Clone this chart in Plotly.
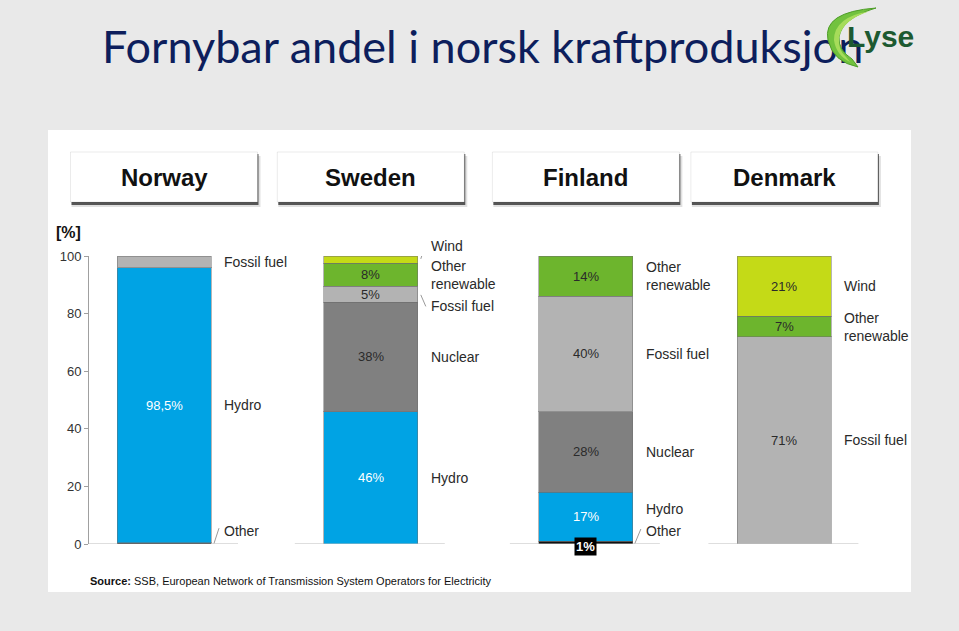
import plotly.graph_objects as go

# ---------------- data ----------------
countries = ["Norway", "Sweden", "Finland", "Denmark"]
series_names = ["Other", "Hydro", "Nuclear", "Fossil fuel", "Other renewable", "Wind"]
other_vals      = [0.5, None, 1, None]
hydro_vals      = [95.5, 46, 17, None]
nuclear_vals    = [None, 38, 28, None]
fossil_vals     = [4, 5.5, 40, 72]
other_ren_vals  = [None, 8, 14, 7]
wind_vals       = [None, 2.5, None, 21]

other_lbl      = ["", "", "1%", ""]
hydro_lbl      = ["98,5%", "46%", "17%", ""]
nuclear_lbl    = ["", "38%", "28%", ""]
fossil_lbl     = ["", "5%", "40%", "71%"]
other_ren_lbl  = ["", "8%", "14%", "7%"]
wind_lbl       = ["", "", "", "21%"]

side_names = ["Other", "Hydro", "Nuclear", "Fossil fuel", "Other<br>renewable", "Wind"]
y_ticks = [0, 20, 40, 60, 80, 100]
title_text = "Fornybar andel i norsk kraftproduksjon"

# ---------------- layout helpers ----------------
W, H = 959, 631
K = 206.8
group_pos = [0, 1.0, 2.04, 3.0]
X_LEFT_PX, X_RIGHT_PX, X0_PX = 89, 911, 164
Y0_PX, Y100_PX = 544, 256
BAR_W = 94 / K

def px(x):
    return x / W

def py(y):
    return 1 - y / H

colors = ["#111111", "#00a3e4", "#808080", "#b3b3b3", "#6db52d", "#c4da17"]
txt_colors = ["#ffffff", "#ffffff", "#2a2a2a", "#2a2a2a", "#2a2a2a", "#2a2a2a"]
all_vals = [other_vals, hydro_vals, nuclear_vals, fossil_vals, other_ren_vals, wind_vals]
all_lbls = [other_lbl, hydro_lbl, nuclear_lbl, fossil_lbl, other_ren_lbl, wind_lbl]

fig = go.Figure()
for name, vals, col in zip(series_names, all_vals, colors):
    fig.add_trace(go.Bar(
        x=group_pos, y=vals, name=name, width=BAR_W,
        marker=dict(color=col, line=dict(color="rgba(110,110,110,0.5)", width=1)),
        hoverinfo="skip",
    ))

# title as a text trace on a full-page overlay axis (so the logo can sit on top of it)
fig.add_trace(go.Scatter(
    x=[102], y=[52], mode="text", text=[title_text], textposition="middle right",
    textfont=dict(family="Lato, Noto Sans, sans-serif", size=45, color="#0d1e5c"),
    xaxis="x2", yaxis="y2", cliponaxis=False, hoverinfo="skip",
))

annotations = []
shapes = []
FONT = "Liberation Sans, Arial, sans-serif"

label_shift = {("Other", 0): 12, ("Wind", 1): 14, ("Fossil fuel", 1): -12,
               ("Hydro", 2): 8, ("Other", 2): 12}

for ci, pos in enumerate(group_pos):
    cum = 0.0
    for si, (name, vals, lbls) in enumerate(zip(series_names, all_vals, all_lbls)):
        v = vals[ci]
        if v is None:
            continue
        mid = cum + v / 2
        cum += v
        lbl = lbls[ci]
        if lbl:
            if name == "Other":
                annotations.append(dict(x=pos, y=mid, xref="x", yref="y", text="<b>" + lbl + "</b>",
                                        xanchor="center", yanchor="middle",
                                        showarrow=False, font=dict(family=FONT, size=13, color="#ffffff"),
                                        bgcolor="#000000", borderpad=1, yshift=-4))
            else:
                annotations.append(dict(x=pos, y=mid, xref="x", yref="y", text=lbl, showarrow=False,
                                        xanchor="center", yanchor="middle",
                                        font=dict(family=FONT, size=13, color=txt_colors[si])))
        annotations.append(dict(x=pos + BAR_W / 2 + 11 / K, y=mid, xref="x", yref="y",
                                text=side_names[si], xanchor="left", yanchor="middle", align="left",
                                showarrow=False, yshift=label_shift.get((name, ci), 0),
                                font=dict(family=FONT, size=14, color="#2a2a2a")))
    shapes.append(dict(type="line", xref="x", yref="y", x0=pos - 76 / K, x1=pos + 74 / K, y0=0, y1=0,
                       line=dict(color="#bdbdbd", width=1)))

connectors = [(0, 3, 0.2, 8, 5.5), (1, 3, 99.0, 8, 104.5), (1, 3, 86.5, 8, 82.5), (2, 2, 0.2, 8, 5.2)]
for ci, dx0, y0, dx1, y1 in connectors:
    edge = group_pos[ci] + BAR_W / 2
    shapes.append(dict(type="line", xref="x", yref="y", x0=edge + dx0 / K, y0=y0, x1=edge + dx1 / K, y1=y1,
                       line=dict(color="#9a9a9a", width=1)))

shapes.insert(0, dict(type="rect", xref="paper", yref="paper", x0=px(48), x1=px(911), y0=py(592), y1=py(130),
                      fillcolor="#ffffff", line=dict(width=0), layer="below"))

for ci, pos in enumerate(group_pos):
    cx = X0_PX + pos * K
    x0, x1, y0, y1 = cx - 93.5, cx + 93.5, 152, 202
    shapes.append(dict(type="rect", xref="paper", yref="paper", x0=px(x0 + 1), x1=px(x1 + 3), y0=py(y1 + 5), y1=py(y0 + 4),
                       fillcolor="rgba(0,0,0,0.12)", line=dict(width=0), layer="below"))
    shapes.append(dict(type="rect", xref="paper", yref="paper", x0=px(x0 + 1), x1=px(x1 + 1), y0=py(y1 + 3), y1=py(y0 + 2),
                       fillcolor="rgba(40,40,40,0.75)", line=dict(width=0), layer="below"))
    shapes.append(dict(type="rect", xref="paper", yref="paper", x0=px(x0), x1=px(x1), y0=py(y1), y1=py(y0),
                       fillcolor="#ffffff", line=dict(color="rgba(0,0,0,0.08)", width=1), layer="below"))
    annotations.append(dict(x=px(cx), y=py(178), xref="paper", yref="paper", text="<b>" + countries[ci] + "</b>",
                            xanchor="center", yanchor="middle",
                            showarrow=False, font=dict(family=FONT, size=24, color="#111111")))

# logo swoosh (pixel coords on overlay axis), drawn above the title
sw_outer = "M 876,8 Q 822,12 828,40 Q 833,62 858,67 L 852,59 Q 838,50 839,37 Q 842,18 876,8 Z"
shapes.append(dict(type="path", xref="x2", yref="y2", path=sw_outer, fillcolor="#72c23e",
                   line=dict(color="#4f9e2a", width=1), layer="above"))
shapes.append(dict(type="path", xref="x2", yref="y2",
                   path="M 870,11 Q 834,17 834,40 Q 836,55 850,62 L 846,57 Q 838,50 839,38 Q 842,20 870,11 Z",
                   fillcolor="#a6dc5a", line=dict(width=0), layer="above"))
annotations.append(dict(x=px(845), y=py(36), xref="paper", yref="paper", xanchor="left", yanchor="middle",
                        text="<b>Lyse</b>", showarrow=False,
                        font=dict(family=FONT, size=30, color="#1d5a31")))

annotations.append(dict(x=px(54), y=py(232), xref="paper", yref="paper", xanchor="left", yanchor="middle",
                        text="<b>[%]</b>", showarrow=False, font=dict(family=FONT, size=16, color="#111111")))
annotations.append(dict(x=px(88), y=py(581), xref="paper", yref="paper", xanchor="left", yanchor="middle",
                        text="<b>Source:</b> SSB, European Network of Transmission System Operators for Electricity",
                        showarrow=False, font=dict(family=FONT, size=11, color="#111111")))

fig.update_layout(
    width=W, height=H, margin=dict(l=0, r=0, t=0, b=0, pad=0, autoexpand=False),
    paper_bgcolor="#e9e9e9", plot_bgcolor="rgba(0,0,0,0)",
    barmode="stack", showlegend=False,
    xaxis=dict(visible=False, automargin=False, domain=[px(X_LEFT_PX), px(X_RIGHT_PX)],
               range=[(X_LEFT_PX - X0_PX) / K, (X_RIGHT_PX - X0_PX) / K], fixedrange=True),
    yaxis=dict(range=[0, 100], automargin=False, domain=[py(Y0_PX), py(Y100_PX)], tickvals=y_ticks,
               ticks="outside", ticklen=4, tickcolor="#a0a0a0", showline=True, linecolor="#a0a0a0",
               linewidth=1, showgrid=False, zeroline=False,
               tickfont=dict(family=FONT, size=13, color="#333333"), fixedrange=True),
    xaxis2=dict(visible=False, automargin=False, domain=[0, 1], range=[0, W], anchor="y2", fixedrange=True),
    yaxis2=dict(visible=False, automargin=False, domain=[0, 1], range=[H, 0], anchor="x2", fixedrange=True),
    shapes=shapes, annotations=annotations,
)
post = ("document.body.style.margin='0';document.body.style.padding='0';"
        "document.documentElement.style.overflow='hidden';")
fig.write_html("out.html", post_script=post, config={"displayModeBar": False})
